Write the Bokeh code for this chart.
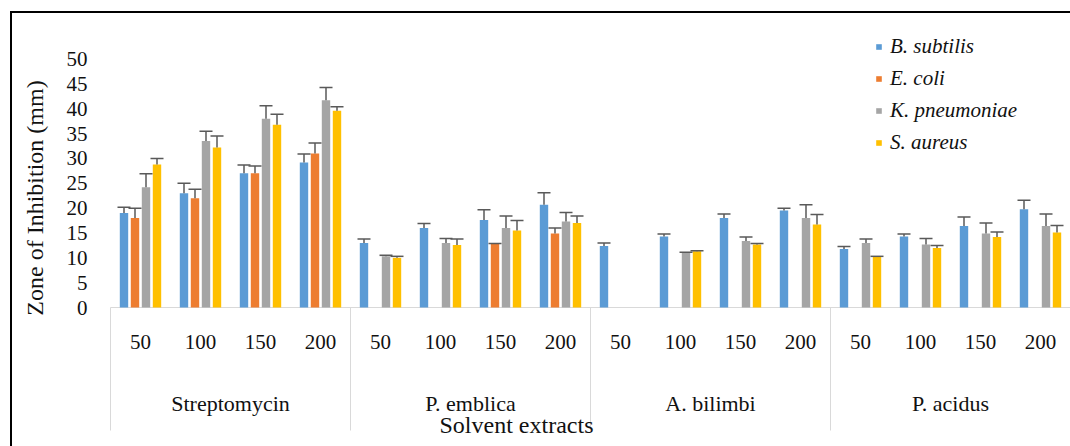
import math
from bokeh.plotting import figure
from bokeh.models import (ColumnDataSource, Range1d, Whisker, TeeHead, Legend, LegendItem)
from bokeh.core.properties import value
from bokeh.embed import file_html
from bokeh.resources import INLINE

# ---------------- data ----------------
groups = ["Streptomycin", "P. emblica", "A. bilimbi", "P. acidus"]
doses = ["50", "100", "150", "200"]
series_names = ["B. subtilis", "E. coli", "K. pneumoniae", "S. aureus"]

b_subtilis = [19.0, 23.0, 27.0, 29.2, 13.0, 16.0, 17.6, 20.7, 12.4, 14.3, 18.0, 19.5, 11.8, 14.3, 16.4, 19.8]
b_subtilis_err = [1.2, 2.0, 1.7, 1.7, 0.8, 0.9, 2.1, 2.4, 0.6, 0.5, 0.8, 0.5, 0.5, 0.5, 1.8, 1.8]
e_coli = [18.0, 22.0, 27.0, 31.0, 0, 0, 12.8, 14.9, 0, 0, 0, 0, 0, 0, 0, 0]
e_coli_err = [2.0, 1.8, 1.5, 2.1, 0, 0, 0.1, 1.1, 0, 0, 0, 0, 0, 0, 0, 0]
k_pneumoniae = [24.2, 33.5, 38.0, 41.7, 10.3, 13.0, 16.0, 17.3, 0, 11.0, 13.4, 18.0, 13.0, 12.7, 14.9, 16.4]
k_pneumoniae_err = [2.7, 2.0, 2.6, 2.6, 0.2, 0.9, 2.4, 1.8, 0, 0.1, 0.8, 2.7, 0.8, 1.2, 2.1, 2.4]
s_aureus = [28.8, 32.2, 36.8, 39.6, 10.0, 12.6, 15.5, 17.0, 0, 11.3, 12.7, 16.7, 10.2, 12.0, 14.2, 15.1]
s_aureus_err = [1.2, 2.3, 2.1, 0.8, 0.3, 1.2, 2.0, 1.4, 0, 0.1, 0.2, 2.0, 0.1, 0.5, 1.0, 1.4]

y_ticks = [0, 5, 10, 15, 20, 25, 30, 35, 40, 45, 50]
y_title = "Zone of Inhibition (mm)"
x_title = "Solvent extracts"

# ---------------- style ----------------
colors = ["#5B9BD5", "#ED7D31", "#A5A5A5", "#FFC000"]
FONT = "Liberation Serif"
TXT = "#111111"
SEP = "#D9D9D9"
ERR = "#595959"

series = [(b_subtilis, b_subtilis_err), (e_coli, e_coli_err),
          (k_pneumoniae, k_pneumoniae_err), (s_aureus, s_aureus_err)]
nd = len(doses)
n = len(groups) * nd
W, H = 1070, 446
PX = 4.968          # pixels per mm on the value axis
CW = 60.0           # pixels per category
X0, Y0 = 110, 307   # pixel position of the category axis origin


def xd(px):  # pixel column -> data x
    return -0.5 + (px - X0) / CW


def yd(py):  # pixel row -> data y
    return (Y0 - py) / PX


p = figure(width=W, height=H, x_range=Range1d(xd(0), xd(W)), y_range=Range1d(yd(H), yd(0)),
           output_backend="svg", toolbar_location=None,
           x_axis_location=None, y_axis_location=None,
           min_border_left=0, min_border_right=0, min_border_top=0, min_border_bottom=0,
           border_fill_color=None, background_fill_color=None, outline_line_color=None)
for g in p.grid:
    g.visible = False
p.styles = {"box-shadow": "inset 10px 11px 0 0 white, inset 12px 13px 0 0 black"}

# category axis line and group separators
p.segment(x0=[-0.5], y0=[0], x1=[n - 0.5], y1=[0], line_color=SEP, line_width=1)
seps = [g * nd - 0.5 for g in range(len(groups) + 1)]
p.segment(x0=seps, y0=[0] * len(seps), x1=seps, y1=[yd(430)] * len(seps),
          line_color=SEP, line_width=1)

offsets = [-0.275, -0.0917, 0.0917, 0.275]
renderers = []
for k, (vals, errs) in enumerate(series):
    xs = [i + offsets[k] for i in range(n)]
    src = ColumnDataSource(dict(x=xs, top=vals))
    r = p.vbar(x="x", top="top", width=0.14, source=src, fill_color=colors[k], line_color=None)
    renderers.append(r)
    keep = [j for j in range(n) if vals[j] > 0]
    esrc = ColumnDataSource(dict(x=[xs[j] for j in keep], lo=[vals[j] for j in keep],
                                 hi=[vals[j] + errs[j] for j in keep]))
    w = Whisker(source=esrc, base="x", lower="lo", upper="hi", dimension="height",
                line_color=ERR, line_width=1.5, level="annotation",
                upper_head=TeeHead(size=13, line_color=ERR, line_width=1.5), lower_head=None)
    p.add_layout(w)

# value-axis tick labels and title
p.text(x=[xd(87)] * len(y_ticks), y=y_ticks, text=[str(t) for t in y_ticks],
       text_font=value(FONT), text_font_size="21px", text_color=TXT,
       text_align="right", text_baseline="middle")
p.text(x=[xd(34)], y=[yd(197.5)], text=[y_title], angle=math.pi / 2,
       text_font=value(FONT), text_font_size="24px", text_color=TXT,
       text_align="center", text_baseline="middle")

# category labels (two levels) and axis title
p.text(x=list(range(n)), y=[yd(341)] * n, text=[doses[i % nd] for i in range(n)],
       text_font=value(FONT), text_font_size="21px", text_color=TXT,
       text_align="center", text_baseline="middle")
gpos = [g * nd + (nd - 1) / 2 for g in range(len(groups))]
p.text(x=gpos, y=[yd(403)] * len(groups), text=groups,
       text_font=value(FONT), text_font_size="22px", text_color=TXT,
       text_align="center", text_baseline="middle")
p.text(x=[xd(516)], y=[yd(424)], text=[x_title],
       text_font=value(FONT), text_font_size="24px", text_color=TXT,
       text_align="center", text_baseline="middle")

legend = Legend(items=[LegendItem(label=series_names[k], renderers=[renderers[k]]) for k in range(4)],
                location=(875, 291), orientation="vertical",
                glyph_width=7, glyph_height=7, label_standoff=8, spacing=7,
                padding=0, margin=0, border_line_color=None, background_fill_color=None,
                label_text_font=FONT, label_text_font_size="21px",
                label_text_font_style="italic", label_text_color=TXT)
p.add_layout(legend)

open("out.html", "w").write(file_html(p, INLINE))
